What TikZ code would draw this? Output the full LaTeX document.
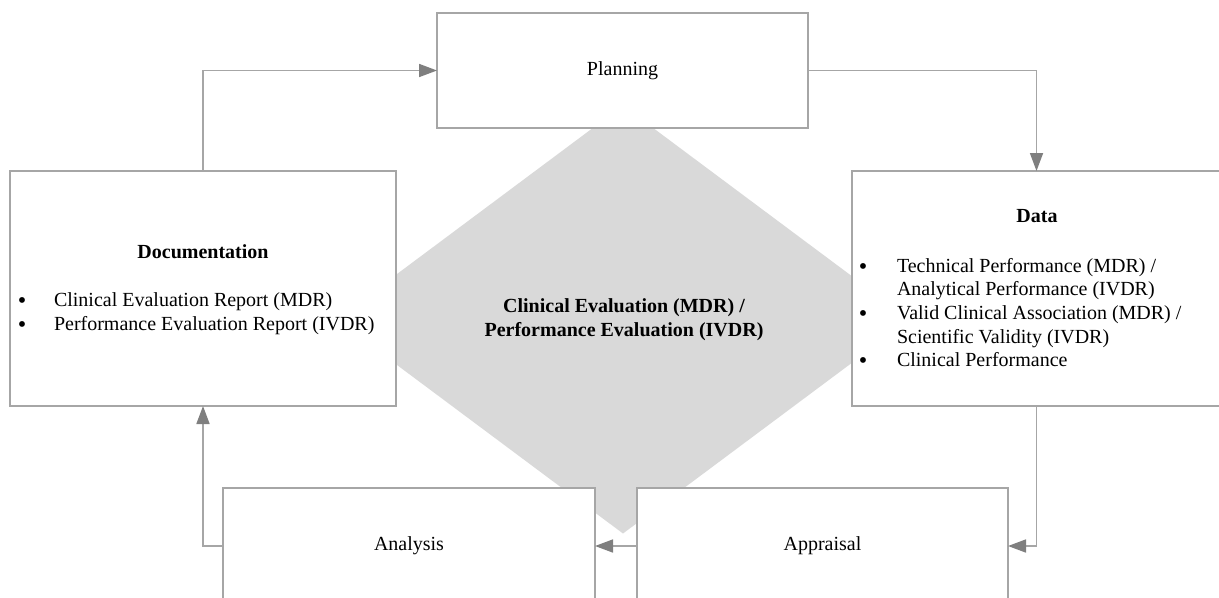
\documentclass[tikz,border=0pt]{standalone}
\usepackage{fontspec}
\setmainfont{Liberation Serif}
\usetikzlibrary{arrows.meta}
\definecolor{linegray}{HTML}{A6A6A6}
\definecolor{tipgray}{HTML}{7F7F7F}
\definecolor{diamgray}{HTML}{D9D9D9}
\begin{document}
\begin{tikzpicture}[x=0.75pt,y=-0.75pt,
  box/.style={draw=linegray,line width=1.25pt,fill=white,inner sep=0pt,outer sep=0pt,rectangle,
    font=\fontsize{15}{18}\selectfont},
  conn/.style={draw=linegray,line width=1.25pt,-{Triangle[length=13.5pt,width=9.75pt,color=tipgray]}},
  txt/.style={font=\fontsize{15}{18}\selectfont,inner sep=0pt,outer sep=0pt},
  btxt/.style={font=\fontsize{15}{18}\selectfont\bfseries,inner sep=0pt,outer sep=0pt},
  bul/.style={font=\fontsize{16}{16}\selectfont\bfseries,inner sep=0pt,outer sep=0pt,anchor=base}
]
\useasboundingbox (0,0) rectangle (1219,597);
\clip (0,0) rectangle (1219,597);

% central diamond
\fill[diamgray] (623,105.5) -- (910,319.5) -- (623,533.5) -- (336,319.5) -- cycle;
\node[btxt,align=center] (core) at (624,320) {Clinical Evaluation (MDR) /\\Performance Evaluation (IVDR)};

% boxes
\node[box,minimum width=278.25pt,minimum height=86.25pt] (plan) at (622.5,70.5) {Planning};
\node[box,minimum width=289.5pt,minimum height=176.25pt] (doc) at (203,288.5) {};
\node[box,minimum width=276.75pt,minimum height=176.25pt] (data) at (1036.5,288.5) {};
\node[box,minimum width=279pt,minimum height=87pt] (anal) at (409,546) {Analysis};
\node[box,minimum width=278.25pt,minimum height=87pt] (appr) at (822.5,546) {Appraisal};

% documentation contents
\node[btxt,anchor=base] (doctitle) at (203,258.5) {Documentation};
\node[bul] (docb1) at (22,307.5) {\textbullet};
\node[txt,anchor=base west] (doct1) at (54,306.5) {Clinical Evaluation Report (MDR)};
\node[bul] (docb2) at (22,331) {\textbullet};
\node[txt,anchor=base west] (doct2) at (54,330) {Performance Evaluation Report (IVDR)};

% data contents
\node[btxt,anchor=base] (datatitle) at (1037,222.7) {Data};
\node[bul] (datab1) at (863,273) {\textbullet};
\node[txt,anchor=base west] (datat1) at (897,272) {Technical Performance (MDR) /};
\node[txt,anchor=base west] (datat2) at (897,295.7) {Analytical Performance (IVDR)};
\node[bul] (datab2) at (863,320.4) {\textbullet};
\node[txt,anchor=base west] (datat3) at (897,319.4) {Valid Clinical Association (MDR) /};
\node[txt,anchor=base west] (datat4) at (897,343.1) {Scientific Validity (IVDR)};
\node[bul] (datab3) at (863,367.8) {\textbullet};
\node[txt,anchor=base west] (datat5) at (897,366.8) {Clinical Performance};

% connectors
\draw[conn] (doc.north) |- (plan.west);
\draw[conn] (plan.east) -| (data.north);
\draw[conn] (data.south) |- (appr.east);
\draw[conn] (appr.west) -- (anal.east);
\draw[conn] (anal.west) -| (doc.south);
\end{tikzpicture}
\end{document}
